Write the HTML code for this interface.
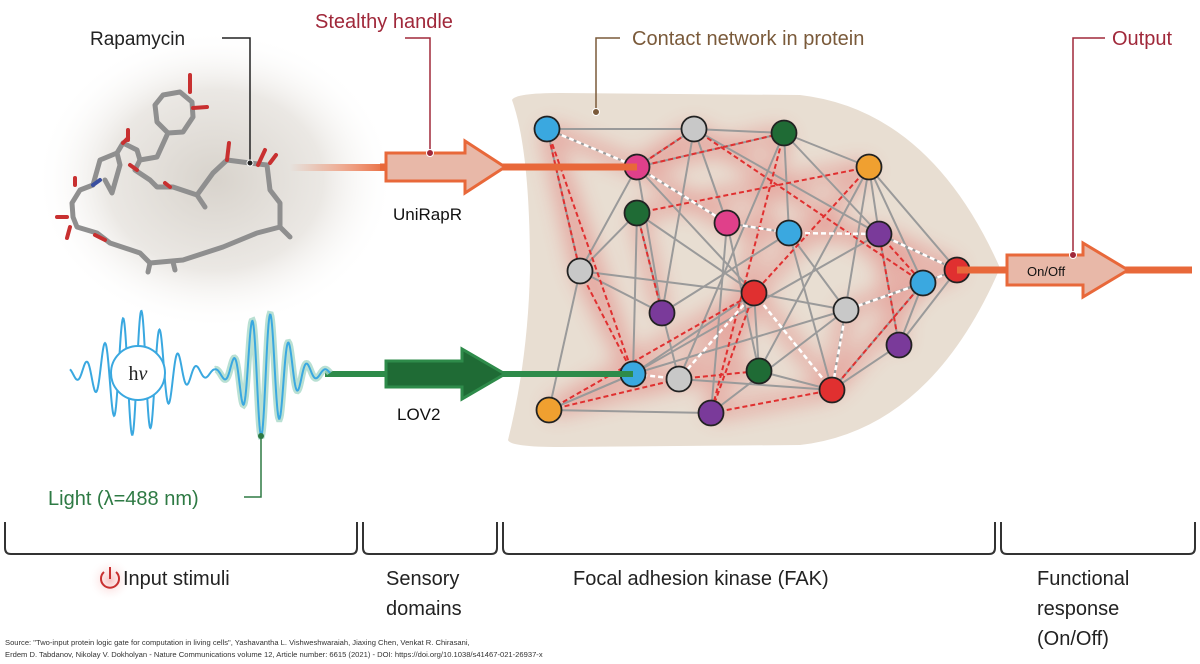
<!DOCTYPE html>
<html><head><meta charset="utf-8">
<style>
html,body{margin:0;padding:0;background:#fff;}
svg{display:block;font-family:"Liberation Sans",Arial,sans-serif;}
</style></head>
<body>
<svg id="s" width="1200" height="664" viewBox="0 0 1200 664" xmlns="http://www.w3.org/2000/svg">
<defs>
<radialGradient id="molbg" cx="0.5" cy="0.5" r="0.5">
<stop offset="0" stop-color="#d8d3cc"/><stop offset="0.6" stop-color="#ebe8e4"/><stop offset="1" stop-color="#fff" stop-opacity="0"/>
</radialGradient>
<linearGradient id="fade" x1="0" x2="1"><stop offset="0" stop-color="#e8683a" stop-opacity="0"/><stop offset="1" stop-color="#e8683a"/></linearGradient>
<radialGradient id="pw" cx="0.5" cy="0.5" r="0.5"><stop offset="0" stop-color="#e88" stop-opacity="0.5"/><stop offset="1" stop-color="#fff" stop-opacity="0"/></radialGradient>
<filter id="blur" x="-20%" y="-20%" width="140%" height="140%"><feGaussianBlur stdDeviation="10"/></filter>
</defs>
<ellipse cx="215" cy="180" rx="180" ry="150" fill="url(#molbg)"/>
<!-- molecule -->
<g fill="none" stroke-linecap="round" stroke-linejoin="round">
<g stroke="#8f8f8f" stroke-width="5">
<polyline points="163,95 180,92 192,102 193,117 183,132 168,133 157,122 155,105 163,95"/>
<polyline points="167,135 157,157 140,160 135,170 150,180 157,187 173,187 197,195 205,207"/>
<polyline points="197,195 213,173 227,160 250,163 267,165 270,190 280,203 280,227 290,237"/>
<polyline points="280,227 257,233 223,247 183,260 150,263 140,253 110,243 97,233 77,227 73,217 72,203 80,190 93,185"/>
<polyline points="93,185 100,160 117,153 120,165 112,193 105,180"/>
<polyline points="117,153 123,143 137,150 140,160"/>
<polyline points="150,263 148,272"/><polyline points="173,262 175,270"/>
</g>
<g stroke="#c83030" stroke-width="4">
<line x1="190" y1="92" x2="190" y2="75"/><line x1="193" y1="108" x2="207" y2="107"/>
<line x1="123" y1="143" x2="128" y2="138"/><line x1="128" y1="140" x2="128" y2="130"/>
<line x1="75" y1="185" x2="75" y2="178"/><line x1="57" y1="217" x2="67" y2="217"/>
<line x1="70" y1="227" x2="67" y2="238"/><line x1="95" y1="235" x2="105" y2="240"/>
<line x1="227" y1="160" x2="229" y2="143"/><line x1="258" y1="165" x2="265" y2="150"/>
<line x1="270" y1="163" x2="276" y2="155"/><line x1="170" y1="187" x2="165" y2="183"/>
<line x1="130" y1="165" x2="137" y2="170"/>
</g>
<line x1="93" y1="185" x2="100" y2="180" stroke="#3a4fa0" stroke-width="4"/>
</g>
<!-- labels top left -->
<text x="90" y="45" font-size="19" fill="#222">Rapamycin</text>
<polyline points="222,38 250,38 250,162" fill="none" stroke="#222" stroke-width="1.5"/>
<circle cx="250" cy="163" r="3" fill="#222" stroke="#fff"/>
<text x="315" y="28" font-size="20" fill="#a0283a">Stealthy handle</text>
<polyline points="405,38 430,38 430,153" fill="none" stroke="#a0283a" stroke-width="1.5"/>
<!-- protein shape -->
<path d="M512,100 Q515,93 560,93 L800,95 Q930,110 1000,268 Q930,430 800,445 L560,447 Q510,447 508,440 Q528,360 530,270 Q530,150 512,100 Z" fill="#e8ded2"/>
<g id="glow" filter="url(#blur)" opacity="0.35"></g>
<g id="net"></g>
<!-- UniRapR arrow -->
<rect x="290" y="164" width="100" height="7" fill="url(#fade)"/>
<line x1="380" y1="167" x2="637" y2="167" stroke="#e8683a" stroke-width="7"/>
<path d="M386,153 H465 V141 L505,167 L465,193 V181 H386 Z" fill="#e8b8a8" stroke="#e8683a" stroke-width="3"/>
<circle cx="430" cy="153" r="3.5" fill="#a0283a" stroke="#fff"/>
<text x="393" y="220" font-size="17" fill="#111">UniRapR</text>
<!-- LOV2 arrow -->
<line x1="325" y1="374" x2="633" y2="374" stroke="#2e8b4a" stroke-width="6"/>
<path d="M386,361 H462 V349 L505,374 L462,399 V387 H386 Z" fill="#1f6b35" stroke="#2e8b4a" stroke-width="3"/>
<text x="397" y="420" font-size="17" fill="#111">LOV2</text>
<!-- output -->
<line x1="957" y1="270" x2="1192" y2="270" stroke="#e8683a" stroke-width="7"/>
<path d="M1007,255 H1083 V243 L1128,270 L1083,297 V285 H1007 Z" fill="#e8b8a8" stroke="#e8683a" stroke-width="3"/>
<text x="1027" y="276" font-size="13" fill="#111">On/Off</text>
<polyline points="1105,38 1073,38 1073,255" fill="none" stroke="#a0283a" stroke-width="1.5"/>
<circle cx="1073" cy="255" r="3.5" fill="#a0283a" stroke="#fff"/>
<text x="1112" y="45" font-size="20" fill="#a0283a">Output</text>
<text x="632" y="45" font-size="20" fill="#7a5a3a">Contact network in protein</text>
<polyline points="620,38 596,38 596,112" fill="none" stroke="#7a5a3a" stroke-width="1.5"/>
<circle cx="596" cy="112" r="3.5" fill="#7a5a3a" stroke="#fff"/>
<!-- waves -->
<g id="waves"></g>
<circle cx="138" cy="373" r="27" fill="#fff" stroke="#3aa8e0" stroke-width="2"/>
<text x="138" y="380" font-size="20" text-anchor="middle" font-family="Liberation Serif,serif" fill="#222">h<tspan font-style="italic">ν</tspan></text>
<polyline points="261,436 261,497 244,497" fill="none" stroke="#2e7a44" stroke-width="1.5"/>
<circle cx="261" cy="436" r="3" fill="#2e7a44"/>
<text x="48" y="505" font-size="20" fill="#2e7a44">Light (λ=488 nm)</text>
<!-- brackets -->
<g fill="none" stroke="#333" stroke-width="2">
<path d="M5,522 V548 Q5,554 11,554 H351 Q357,554 357,548 V522"/>
<path d="M363,522 V548 Q363,554 369,554 H491 Q497,554 497,548 V522"/>
<path d="M503,522 V548 Q503,554 509,554 H989 Q995,554 995,548 V522"/>
<path d="M1001,522 V548 Q1001,554 1007,554 H1189 Q1195,554 1195,548 V522"/>
</g>
<circle cx="110" cy="580" r="22" fill="url(#pw)"/>
<path d="M104,572 A9,9 0 1 0 116,572" fill="none" stroke="#c83030" stroke-width="2"/>
<line x1="110" y1="567" x2="110" y2="579" stroke="#c83030" stroke-width="2"/>
<g font-size="20" fill="#222">
<text x="123" y="585">Input stimuli</text>
<text x="386" y="585">Sensory</text><text x="386" y="615">domains</text>
<text x="573" y="585">Focal adhesion kinase (FAK)</text>
<text x="1037" y="585">Functional</text><text x="1037" y="615">response</text><text x="1037" y="645">(On/Off)</text>
</g>
<g font-size="7.6" fill="#333">
<text x="5" y="645">Source: "Two-input protein logic gate for computation in living cells", Yashavantha L. Vishweshwaraiah, Jiaxing Chen, Venkat R. Chirasani,</text>
<text x="5" y="657">Erdem D. Tabdanov, Nikolay V. Dokholyan - Nature Communications volume 12, Article number: 6615 (2021) - DOI: https://doi.org/10.1038/s41467-021-26937-x</text>
</g>
</svg>
<script>
var NS="http://www.w3.org/2000/svg";
function el(p,t,a){var e=document.createElementNS(NS,t);for(var k in a)e.setAttribute(k,a[k]);p.appendChild(e);return e;}
var N=[[547,129,'#3aa8e0'],[694,129,'#c8c8c8'],[784,133,'#1f6b35'],[637,167,'#e0408a'],[869,167,'#f0a030'],
[637,213,'#1f6b35'],[727,223,'#e0408a'],[789,233,'#3aa8e0'],[879,234,'#7a3a9a'],[580,271,'#c8c8c8'],
[957,270,'#e03030'],[923,283,'#3aa8e0'],[754,293,'#e03030'],[662,313,'#7a3a9a'],[846,310,'#c8c8c8'],
[899,345,'#7a3a9a'],[633,374,'#3aa8e0'],[679,379,'#c8c8c8'],[759,371,'#1f6b35'],[832,390,'#e03030'],
[549,410,'#f0a030'],[711,413,'#7a3a9a']];
var gray=[[0,1],[1,2],[0,3],[1,3],[2,3],[2,4],[1,6],[1,8],[2,8],[2,7],[3,9],[3,12],[3,13],[3,6],[5,9],[5,16],[5,17],[5,12],
[4,8],[4,10],[4,11],[4,18],[4,19],[6,7],[6,21],[7,14],[7,19],[8,10],[8,15],[9,12],[9,20],[9,13],[10,15],[11,15],[11,19],
[12,18],[12,14],[13,1],[14,16],[14,11],[15,19],[16,20],[16,12],[17,2],[17,19],[18,19],[20,21],[20,16],[21,14],[10,14],[0,9],[13,7],[18,6],[16,8]];
var red=[[0,16],[0,9],[3,1],[3,2],[5,4],[5,13],[1,11],[2,21],[4,12],[9,16],[12,21],[17,18],[20,17],[21,19],[19,11],[15,8],[8,11],[20,12]];
var white=[[0,3],[3,6],[6,7],[7,8],[8,10],[10,11],[11,14],[14,19],[19,12],[12,17],[17,16]];
var glow=document.getElementById('glow'),net=document.getElementById('net');
white.concat(red).forEach(function(e){var a=N[e[0]],b=N[e[1]];el(glow,'line',{x1:a[0],y1:a[1],x2:b[0],y2:b[1],stroke:'#e04040','stroke-width':14});});
gray.forEach(function(e){var a=N[e[0]],b=N[e[1]];el(net,'line',{x1:a[0],y1:a[1],x2:b[0],y2:b[1],stroke:'#9a9a9a','stroke-width':2});});
red.forEach(function(e){var a=N[e[0]],b=N[e[1]];el(net,'line',{x1:a[0],y1:a[1],x2:b[0],y2:b[1],stroke:'#e03030','stroke-width':2,'stroke-dasharray':'5,3'});});
white.forEach(function(e){var a=N[e[0]],b=N[e[1]];el(net,'line',{x1:a[0],y1:a[1],x2:b[0],y2:b[1],stroke:'#fff','stroke-width':2.5,'stroke-dasharray':'5,3'});});
N.forEach(function(n){el(net,'circle',{cx:n[0],cy:n[1],r:12.5,fill:n[2],stroke:'#222','stroke-width':1.8});});
var w=document.getElementById('waves');
function packet(x0,x1,env,ph){var d='';for(var x=x0;x<=x1;x+=0.5){var y=373-env(x)*Math.cos((x-ph)*0.342);d+=(x==x0?'M':'L')+x.toFixed(1)+','+y.toFixed(1);}return d;}
var e1=function(x){return 60*Math.exp(-Math.pow((x-137)/36,2))+3;};
var e2=function(x){var s=x<262?22:30;return 60*Math.exp(-Math.pow((x-262)/s,2))+3*(x<330?1:0);};
var p1=packet(70,215,e1,123);
el(w,'path',{d:p1,fill:'none',stroke:'#3aa8e0','stroke-width':2});
var p2=packet(215,330,e2,252);
el(w,'path',{d:p2,fill:'none',stroke:'#a8d8c8','stroke-width':7,opacity:0.8});
el(w,'path',{d:p2,fill:'none',stroke:'#3aa8e0','stroke-width':2});
</script>
</body></html>
